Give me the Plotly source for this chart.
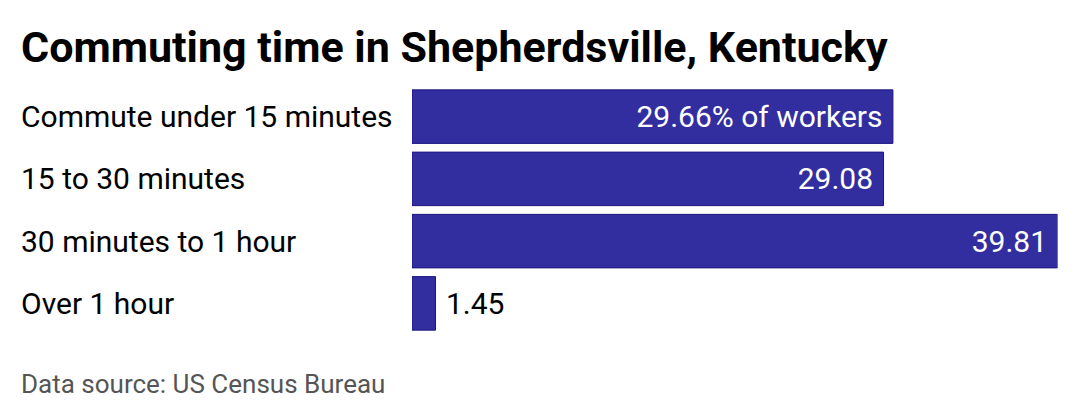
import plotly.graph_objects as go

categories = ["Commute under 15 minutes", "15 to 30 minutes", "30 minutes to 1 hour", "Over 1 hour"]
shares = [29.66, 29.08, 39.81, 1.45]
value_labels = ["29.66% of workers", "29.08", "39.81", "1.45"]

W, H = 1080, 420
OFF = 8  # page offset of the plot div
PAD = "\u00a0"

texts = []
positions = []
for v, lab in zip(shares, value_labels):
    if v > 5:
        texts.append(lab + PAD)
        positions.append("inside")
    else:
        texts.append(PAD + lab)
        positions.append("outside")

fig = go.Figure()
fig.add_trace(
    go.Bar(
        x=shares,
        y=categories,
        orientation="h",
        marker={"color": "#332e9f", "line": {"color": "#1c1780", "width": 1}},
        text=texts,
        textposition=positions,
        insidetextanchor="end",
        insidetextfont={"color": "white", "size": 30, "family": "Roboto"},
        outsidetextfont={"color": "black", "size": 30, "family": "Roboto"},
        constraintext="none",
        cliponaxis=False,
        hoverinfo="skip",
    )
)

for cat in categories:
    fig.add_annotation(
        x=(22 - OFF - 3) / W, xref="paper", xanchor="left",
        y=cat, yref="y", yanchor="middle",
        text=cat, showarrow=False,
        font={"size": 30, "color": "black", "family": "Roboto"},
    )

fig.add_annotation(
    x=(22 - OFF - 3) / W, xref="paper", xanchor="left",
    y=1 - (47 - OFF) / H, yref="paper", yanchor="middle",
    text="<b>Commuting time in Shepherdsville, Kentucky</b>", showarrow=False,
    font={"size": 43, "color": "black", "family": "Roboto"},
)
fig.add_annotation(
    x=(22 - OFF - 3) / W, xref="paper", xanchor="left",
    y=1 - (384 - OFF) / H, yref="paper", yanchor="middle",
    text="Data source: US Census Bureau", showarrow=False,
    font={"size": 26, "color": "#555555", "family": "Roboto"},
)

fig.update_layout(
    width=W, height=H,
    margin={"l": 0, "r": 0, "t": 0, "b": 0},
    paper_bgcolor="white", plot_bgcolor="white",
    showlegend=False,
    bargap=0.14,
    font={"family": "Roboto"},
    xaxis={
        "domain": [(412 - OFF) / W, (1057.5 - OFF) / W],
        "range": [0, 39.81],
        "visible": False,
        "fixedrange": True,
    },
    yaxis={
        "domain": [1 - (334.5 - OFF) / H, 1 - (85.5 - OFF) / H],
        "autorange": "reversed",
        "showticklabels": False,
        "showgrid": False,
        "zeroline": False,
        "fixedrange": True,
    },
)

fig.write_html("out.html")
